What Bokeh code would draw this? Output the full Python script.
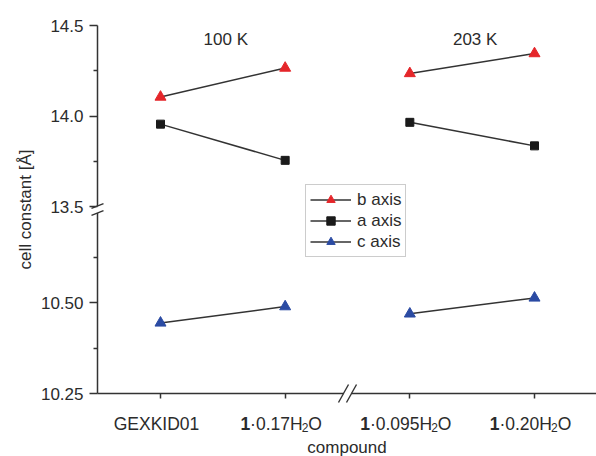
import math
from bokeh.plotting import figure
from bokeh.models import FixedTicker, Label, Legend, LegendItem, Arrow, Range1d
from bokeh.embed import file_html
from bokeh.resources import INLINE

# ---------------- data ----------------
categories = ["GEXKID01", "1·0.17H2O", "1·0.095H2O", "1·0.20H2O"]
category_parts = [
    [("GEXKID01", "n")],
    [("1", "b"), ("·0.17H", "n"), ("2", "s"), ("O", "n")],
    [("1", "b"), ("·0.095H", "n"), ("2", "s"), ("O", "n")],
    [("1", "b"), ("·0.20H", "n"), ("2", "s"), ("O", "n")],
]
temperature_groups = ["100 K", "203 K"]
b_axis = [14.105, 14.265, 14.235, 14.345]
a_axis = [13.955, 13.755, 13.965, 13.835]
c_axis = [10.445, 10.490, 10.470, 10.514]
y_major = [10.25, 10.50, 13.5, 14.0, 14.5]
y_major_labels = ["10.25", "10.50", "13.5", "14.0", "14.5"]
y_minor = [10.375, 10.625, 13.75, 14.25]

# ---------------- broken y scale ----------------
LOW0, LOW1 = 10.25, 10.75
HIGH0, HIGH1 = 13.5, 14.5
GAP = 0.033


def to_plot(v):
    if v <= LOW1:
        return (v - LOW0) / (LOW1 - LOW0)
    return 1 + GAP + (v - HIGH0) / (HIGH1 - HIGH0)


Y_TOP = to_plot(HIGH1)
x_pos = list(range(1, len(categories) + 1))

# ---------------- layout (frame = whole canvas, axes at fixed locations) ----------------
W, H = 596, 456
AXL, AXR, AXT, AXB = 97, 596, 25, 393          # axis box in canvas pixels
KX = (534 - 160) / 3.0                          # px per category step
KY = (AXB - AXT) / Y_TOP                        # px per plot unit
X_AT_AXIS = 1 - (160 - AXL) / KX
XA = X_AT_AXIS - AXL / KX
XB = X_AT_AXIS + (W - AXL) / KX
YA = -(H - AXB) / KY
YB = Y_TOP + AXT / KY

FONT = "Liberation Sans"
TXT = "#2b2b2b"
AX = "#333333"

p = figure(width=W, height=H, x_range=Range1d(XA, XB), y_range=Range1d(YA, YB),
           output_backend="svg", toolbar_location=None,
           min_border_left=0, min_border_right=0, min_border_top=0, min_border_bottom=0)
p.outline_line_color = None
p.grid.visible = False
p.background_fill_color = "white"
p.border_fill_color = "white"

# x axis
xa = p.xaxis[0]
xa.fixed_location = 0.0
xa.ticker = FixedTicker(ticks=x_pos, minor_ticks=[])
xa.major_label_overrides = {x: "" for x in x_pos}
xa.axis_line_color = None
xa.major_tick_line_color = AX
xa.major_tick_line_width = 1.5
xa.major_tick_out = 5
xa.major_tick_in = 0

# y axis
ya = p.yaxis[0]
ya.fixed_location = X_AT_AXIS
ya.ticker = FixedTicker(ticks=[to_plot(v) for v in y_major],
                        minor_ticks=[to_plot(v) for v in y_minor])
ya.major_label_overrides = {to_plot(v): lab for v, lab in zip(y_major, y_major_labels)}
ya.axis_line_color = None
ya.major_tick_line_color = AX
ya.minor_tick_line_color = AX
ya.major_tick_line_width = 1.5
ya.minor_tick_line_width = 1.5
ya.major_tick_out = 8
ya.major_tick_in = 0
ya.minor_tick_out = 4
ya.minor_tick_in = 0
ya.major_label_standoff = 6
ya.major_label_text_font = FONT
ya.major_label_text_font_size = "17px"
ya.major_label_text_color = TXT


# axis lines with breaks (screen px, origin bottom-left of canvas)
def sy(page_y):
    return H - page_y


yb = H - (AXB - (to_plot(LOW1) + to_plot(HIGH0)) / 2 * KY)
xb = AXL + (2.5 - X_AT_AXIS) * KX


def seg(x0, y0, x1, y1, w=1.5):
    p.add_layout(Arrow(x_start=x0, y_start=y0, x_end=x1, y_end=y1,
                       start_units="screen", end_units="screen", end=None,
                       line_color=AX, line_width=w))


seg(AXL, sy(AXB), AXL, yb - 3.5)
seg(AXL, yb + 3.5, AXL, sy(AXT))
seg(AXL, sy(AXB), xb - 4, sy(AXB))
seg(xb + 4, sy(AXB), AXR, sy(AXB))
for d in (-3.5, 3.5):
    seg(AXL - 6, yb + d - 2.4, AXL + 6, yb + d + 2.4, 1.4)
for d in (-4, 4):
    seg(xb + d - 5, sy(AXB) - 9, xb + d + 5, sy(AXB) + 9, 1.4)

# ---------------- series ----------------
series = [
    ("b axis", b_axis, "triangle", "#e5262a", 11),
    ("a axis", a_axis, "square", "#1a1a1a", 8),
    ("c axis", c_axis, "triangle", "#2b4ba3", 11),
]
items = []
for name, vals, marker, color, size in series:
    yv = [to_plot(v) for v in vals]
    ml = p.multi_line(xs=[x_pos[0:2], x_pos[2:4]], ys=[yv[0:2], yv[2:4]],
                      line_color=AX, line_width=1.5)
    sc = p.scatter(x_pos, yv, marker=marker, size=size, fill_color=color,
                   line_color=color, line_width=1)
    items.append(LegendItem(label=name, renderers=[ml, sc]))

legend = Legend(items=items, location=(305, sy(257)), border_line_color="#999999",
                border_line_width=1, background_fill_color="white", background_fill_alpha=1,
                glyph_width=41, glyph_height=21, label_height=21, label_standoff=6,
                spacing=0, padding=4, margin=0,
                label_text_font=FONT, label_text_font_size="17px", label_text_color=TXT)
p.add_layout(legend)

# temperature annotations
for i, t in enumerate(temperature_groups):
    p.add_layout(Label(x=(x_pos[2 * i] + x_pos[2 * i + 1]) / 2, y=sy(39),
                       x_units="data", y_units="screen", text=t, text_align="center",
                       text_baseline="alphabetic", text_font=FONT, text_font_size="17px",
                       text_color=TXT, x_offset=3))

# axis titles
p.add_layout(Label(x=(AXL + AXR) / 2, y=sy(447), x_units="screen", y_units="screen",
                   text="compound", text_align="center", text_baseline="alphabetic",
                   text_font=FONT, text_font_size="17px", text_color=TXT))
p.add_layout(Label(x=25, y=sy((AXT + AXB) / 2), x_units="screen", y_units="screen",
                   text="cell constant [Å]", text_align="center", text_baseline="middle",
                   angle=math.pi / 2, text_font=FONT, text_font_size="17px", text_color=TXT))

# category tick labels with bold / subscript parts
WID = {"0": 556, "1": 556, "2": 556, "3": 556, "4": 556, "5": 556, "6": 556, "7": 556,
       "8": 556, "9": 556, ".": 278, "·": 278, "H": 722, "O": 778, "G": 778, "E": 667,
       "X": 667, "K": 667, "I": 278, "D": 722}
FS, SFS = 17.5, 12


def width(s, fs):
    return sum(WID.get(ch, 556) for ch in s) / 1000 * fs


for x, parts in zip(x_pos, category_parts):
    sizes = [SFS if k == "s" else FS for _, k in parts]
    total = sum(width(s, f) for (s, _), f in zip(parts, sizes))
    off = -total / 2 - 4
    for (s, k), f in zip(parts, sizes):
        p.add_layout(Label(x=x, y=sy(423) - (4 if k == "s" else 0), x_units="data",
                           y_units="screen", x_offset=off, text=s, text_align="left",
                           text_baseline="alphabetic", text_font=FONT,
                           text_font_size=f"{f}px",
                           text_font_style="bold" if k == "b" else "normal",
                           text_color=TXT))
        off += width(s, f)

open("out.html", "w").write(file_html(p, INLINE))
